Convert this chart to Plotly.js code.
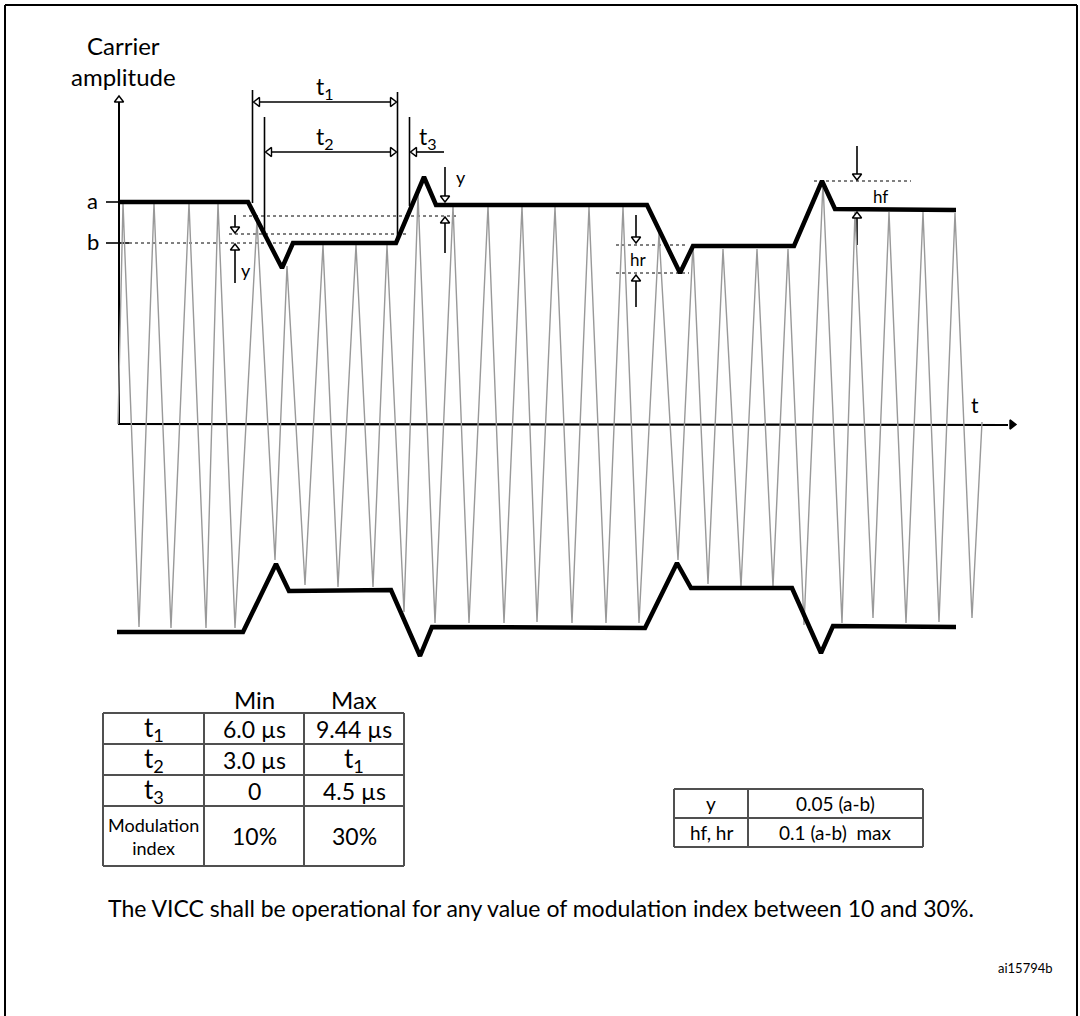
<!DOCTYPE html>
<html><head><meta charset="utf-8">
<script src="https://cdn.plot.ly/plotly-3.0.1.min.js"></script>
<style>html,body{margin:0;padding:0;background:#fff}#chart{width:1080px;height:1016px}</style>
</head><body><div id="chart"></div>
<script>
// ===== DATA (diagram units: t to the right, amplitude downward in drawing units) =====
// Upper modulation envelope vertices
const upperT = [118, 248, 282, 293, 396, 424, 436, 558, 647, 680, 693, 794, 822, 835, 956];
const upperA = [202, 202, 268, 243, 243, 177, 205, 205, 205, 273, 246, 246, 181, 209, 210];
// Lower modulation envelope vertices
const lowerT = [117, 243, 276, 289, 391, 420, 432, 555, 645, 677, 691, 792, 821, 833, 956];
const lowerA = [632, 632, 564, 591, 590, 656, 627, 628, 628, 563, 588, 588, 653, 626, 627];
// Carrier: positive peaks and negative troughs
const peakT   = [123, 154, 189, 218, 257, 287, 323, 356, 387, 418, 453, 488, 522, 555, 589, 623, 659, 693, 723, 757, 788, 823, 855, 889, 923, 955];
const peakA   = [203, 203, 203, 203, 220, 266, 245, 245, 245, 195, 206, 206, 206, 207, 207, 207, 233, 244, 249, 249, 249, 183, 212, 212, 212, 213];
const troughT = [139, 171, 206, 235, 275, 305, 338, 373, 404, 435, 469, 504, 537, 572, 606, 639, 678, 708, 741, 773, 804, 842, 873, 906, 939, 972];
const troughA = [627, 628, 628, 628, 560, 585, 587, 587, 612, 623, 623, 623, 622, 623, 623, 623, 560, 584, 587, 587, 625, 623, 618, 623, 622, 618];
const carrierStart = [118, 424];
const carrierEnd = [982, 422];
// Reference levels
const levelA = 202, levelB = 243;
// Timing table
const colHeaders = ['Min', 'Max'];
const paramRows = ['t<sub>1</sub>', 't<sub>2</sub>', 't<sub>3</sub>', 'Modulation<br>index'];
const minVals = ['6.0 µs', '3.0 µs', '0', '10%'];
const maxVals = ['9.44 µs', 't<sub>1</sub>', '4.5 µs', '30%'];
// Overshoot table
const limitRows = ['y', 'hf, hr'];
const limitVals = ['0.05 (a-b)', '0.1 (a-b)\u00a0 max'];
const footnote = 'The VICC shall be operational for any value of modulation index between 10 and 30%.';
const figId = 'ai15794b';

// ===== DRAWING =====
const FONT = 'Lato, "Open Sans", sans-serif';
const AX = 119, AY = 424;
const traces = [], shapes = [], annotations = [];
const heads = {x: [], y: [], s: [], c: []};

function line(x0, y0, x1, y1, w, dash, color) {
  shapes.push({type: 'line', xref: 'x', yref: 'y', x0, y0, x1, y1, layer: 'below',
    line: {color: color || '#000', width: w || 1.5, dash: dash || 'solid'}});
}
function head(x, y, dir, filled) {
  const r = 4;
  let cx = x, cy = y, sym;
  if (dir === 'up') { cy = y + r; sym = 'triangle-up'; }
  if (dir === 'down') { cy = y - r; sym = 'triangle-down'; }
  if (dir === 'left') { cx = x + r; sym = 'triangle-left'; }
  if (dir === 'right') { cx = x - r; sym = 'triangle-right'; }
  heads.x.push(cx); heads.y.push(cy); heads.s.push(sym); heads.c.push(filled ? '#000' : '#fff');
}
function vArrow(x, yFrom, yTo) {
  line(x, yFrom, x, yTo, 1.6);
  head(x, yTo, yTo > yFrom ? 'down' : 'up');
}
function text(x, y, t, size, opts) {
  annotations.push(Object.assign({xref: 'x', yref: 'y', x, y, text: t, showarrow: false,
    xanchor: 'center', yanchor: 'middle', font: {family: FONT, size: size || 18, color: '#000'}}, opts || {}));
}

// carrier
const cx = [carrierStart[0]], cy = [carrierStart[1]];
for (let i = 0; i < peakT.length; i++) {
  cx.push(peakT[i], troughT[i]); cy.push(peakA[i], troughA[i]);
}
cx.push(carrierEnd[0]); cy.push(carrierEnd[1]);
traces.push({x: cx, y: cy, type: 'scatter', mode: 'lines', hoverinfo: 'skip',
  line: {color: '#999999', width: 1.4}});
// envelopes
traces.push({x: upperT, y: upperA, type: 'scatter', mode: 'lines', hoverinfo: 'skip',
  line: {color: '#000', width: 4.5}});
traces.push({x: lowerT, y: lowerA, type: 'scatter', mode: 'lines', hoverinfo: 'skip',
  line: {color: '#000', width: 4.5}});

// frame
line(5, 5, 1077, 5, 2);
line(5, 5, 5, 1016, 2);
line(1077, 5, 1077, 1016, 2);

// axes
line(AX, 100, AX, AY + 1, 2);
head(AX, 96, 'up');
line(AX, AY, 1008, AY + 1, 2.2);
heads.x.push(1012); heads.y.push(AY + 0.5); heads.s.push('triangle-right'); heads.c.push('#000');
text(123, 45, 'Carrier', 24);
text(123, 76, 'amplitude', 24);
text(975, 404, 't', 21);

// a / b levels
text(92, levelA - 2, 'a', 22);
text(93, levelB - 2, 'b', 22);
line(106, levelA, AX, levelA, 1.6);
line(106, levelB, 129, levelB, 1.6);
line(129, levelB, 292, levelB, 1, 'dot');

// t1 / t2 / t3 dimensioning
line(252.5, 90, 252.5, 203, 1.6);
line(264.5, 117, 264.5, 233, 1.6);
line(397.5, 92, 397.5, 237, 1.6);
line(409.5, 117, 409.5, 206, 1.6);
line(257, 102, 393, 102, 1.6); head(253.5, 102, 'left'); head(396.5, 102, 'right');
line(269, 152, 392, 152, 1.6); head(265.5, 152, 'left'); head(396.5, 152, 'right');
line(414, 152, 444, 152, 1.6); head(410.5, 152, 'left');
text(325, 87, 't<sub>1</sub>', 23);
text(325, 137, 't<sub>2</sub>', 23);
text(428, 137, 't<sub>3</sub>', 23);

// y overshoot marks
line(243, 216, 458, 216, 1, 'dot');
line(229, 234, 408, 234, 1, 'dot');
vArrow(235, 215, 233);
vArrow(235, 283, 244);
text(246, 270, 'y', 18);
vArrow(445, 167, 202);
vArrow(445, 253, 217);
text(461, 177, 'y', 18);

// hr / hf
line(616, 245, 688, 245, 1, 'dot');
line(616, 273, 689, 273, 1, 'dot');
vArrow(636, 215, 243);
vArrow(636, 307, 275);
text(638, 259, 'hr', 17);
line(814, 181, 911, 181, 1, 'dot');
vArrow(857, 146, 180);
vArrow(857, 245, 212);
text(880, 196, 'hf', 17);

// timing table
const tCols = [103, 204, 304, 404];
const tRows = [713, 744, 775, 806, 866];
const tc = '#505050';
tRows.forEach(y => line(tCols[0], y, tCols[3], y, 2, 'solid', tc));
tCols.forEach(x => line(x, tRows[0], x, tRows[4], 2, 'solid', tc));
colHeaders.forEach((h, i) => text((tCols[i + 1] + tCols[i + 2]) / 2, 699, h, 24));
paramRows.forEach((p, i) => {
  const yc = (tRows[i] + tRows[i + 1]) / 2;
  const small = p.indexOf('<br>') >= 0;
  text((tCols[0] + tCols[1]) / 2, yc, p, small ? 18 : 26);
  text((tCols[1] + tCols[2]) / 2, yc, minVals[i], 23);
  text((tCols[2] + tCols[3]) / 2, yc, maxVals[i], i === 1 ? 26 : 23);
});

// overshoot table
const lCols = [674, 748, 923];
const lRows = [789, 818, 847];
lRows.forEach(y => line(lCols[0], y, lCols[2], y, 2, 'solid', tc));
lCols.forEach(x => line(x, lRows[0], x, lRows[2], 2, 'solid', tc));
limitRows.forEach((r, i) => {
  const yc = (lRows[i] + lRows[i + 1]) / 2;
  text((lCols[0] + lCols[1]) / 2, yc, r, 19);
  text((lCols[1] + lCols[2]) / 2, yc, limitVals[i], 19);
});

text(541, 908, footnote, 23);
text(1055, 968, figId, 13, {xanchor: 'right'});

traces.push({x: heads.x, y: heads.y, type: 'scatter', mode: 'markers', hoverinfo: 'skip',
  marker: {symbol: heads.s, size: 8, color: heads.c, line: {color: '#000', width: 1.4}}});

Plotly.newPlot('chart', traces, {
  width: 1080, height: 1016, margin: {l: 0, r: 0, t: 0, b: 0},
  paper_bgcolor: '#fff', plot_bgcolor: '#fff', showlegend: false,
  xaxis: {range: [0, 1080], visible: false, fixedrange: true},
  yaxis: {range: [1016, 0], visible: false, fixedrange: true},
  shapes, annotations
}, {staticPlot: true});
</script></body></html>
